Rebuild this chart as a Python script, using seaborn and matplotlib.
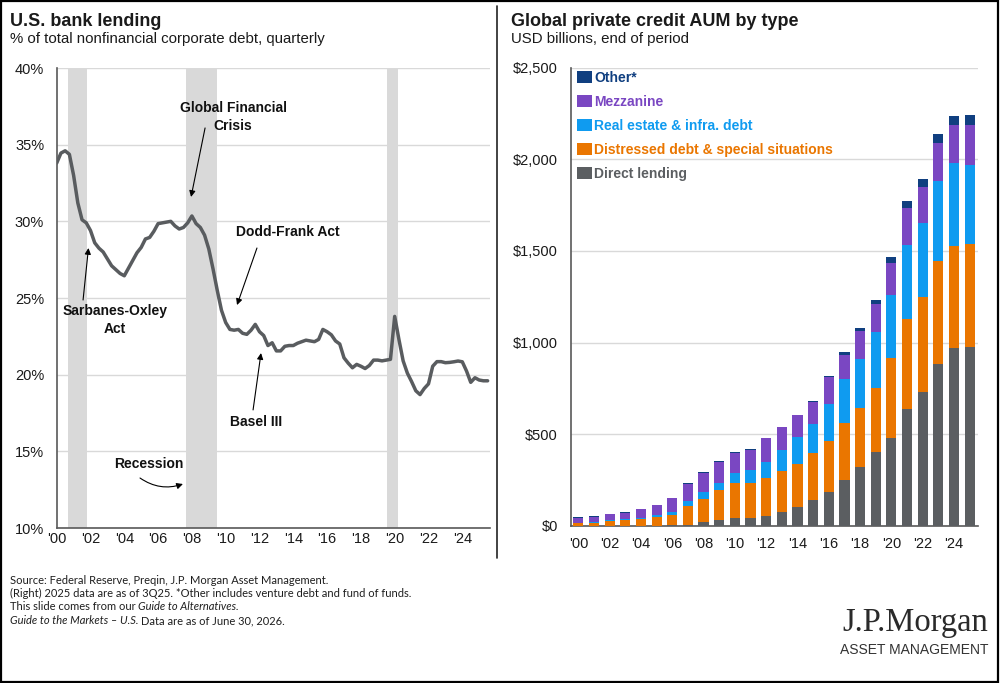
import numpy as np
import pandas as pd
import matplotlib
matplotlib.use("Agg")
import matplotlib.pyplot as plt
import seaborn as sns
from matplotlib.patches import Patch, Rectangle
from matplotlib.lines import Line2D

# ---------------- data ----------------
# Left: U.S. bank lending, % of nonfinancial corporate debt, quarterly 2000Q1-2025Q3
lending_quarters = pd.period_range("2000Q1", "2025Q3", freq="Q")
lending_share = [
    33.8, 34.45, 34.6, 34.37, 33.0, 31.2, 30.1, 29.9,        # 2000-2001
    29.4, 28.6, 28.25, 28.0, 27.55, 27.1, 26.85, 26.6,       # 2002-2003
    26.45, 26.95, 27.45, 27.95, 28.3, 28.85, 28.95, 29.35,   # 2004-2005
    29.85, 29.9, 29.95, 30.0, 29.7, 29.5, 29.6, 29.9,        # 2006-2007
    30.35, 29.85, 29.6, 29.1, 28.2, 26.9, 25.5, 24.2,        # 2008-2009
    23.4, 22.95, 22.9, 22.95, 22.7, 22.63, 22.9, 23.28,      # 2010-2011
    22.8, 22.55, 21.9, 22.08, 21.55, 21.55, 21.85, 21.9,     # 2012-2013
    21.9, 22.05, 22.15, 22.25, 22.2, 22.15, 22.3, 22.95,     # 2014-2015
    22.8, 22.6, 22.2, 22.0, 21.1, 20.75, 20.45, 20.67,       # 2016-2017
    20.55, 20.4, 20.6, 20.95, 20.95, 20.9, 20.95, 21.0,      # 2018-2019
    23.8, 22.3, 20.9, 20.1, 19.55, 18.95, 18.7, 19.1,        # 2020-2021
    19.4, 20.55, 20.85, 20.85, 20.78, 20.8, 20.84, 20.89,    # 2022-2023
    20.84, 20.24, 19.5, 19.8, 19.65, 19.6, 19.6,             # 2024-2025Q3
]
recession_starts = [2000.69, 2007.65, 2019.56]
recession_ends = [2001.81, 2009.50, 2020.21]
left_yticks = [10, 15, 20, 25, 30, 35, 40]
left_xticks = list(range(2000, 2025, 2))
left_xticklabels = ["'00", "'02", "'04", "'06", "'08", "'10", "'12", "'14", "'16", "'18", "'20", "'22", "'24"]

# Right: Global private credit AUM by type, USD billions
aum_years = list(range(2000, 2026))
aum_labels = ["'00", "'01", "'02", "'03", "'04", "'05", "'06", "'07", "'08", "'09",
              "'10", "'11", "'12", "'13", "'14", "'15", "'16", "'17", "'18", "'19",
              "'20", "'21", "'22", "'23", "'24", "'25"]
direct_lending = [2, 2, 2, 2, 2, 2, 3, 7, 24, 33, 42, 45, 54, 75, 102, 142, 187, 251, 323, 405,
                  481, 636, 732, 886, 968, 977]
distressed = [13, 16, 25, 31, 36, 45, 57, 102, 123, 163, 194, 187, 209, 225, 236, 254, 277, 309,
              318, 345, 436, 495, 517, 558, 559, 559]
real_estate = [4, 4, 6, 3, 7, 15, 18, 29, 36, 40, 55, 73, 84, 114, 149, 160, 202, 239, 272, 308,
               345, 400, 405, 435, 454, 434]
mezzanine = [26, 29, 31, 35, 46, 51, 73, 91, 106, 114, 109, 111, 131, 125, 116, 118, 146, 132,
             149, 155, 174, 205, 195, 209, 203, 214]
other = [5, 4, 4, 4, 4, 4, 4, 4, 4, 3, 3, 5, 3, 2, 3, 5, 5, 17, 19, 22, 33, 36, 43, 49, 53, 56]
right_yticks = [0, 500, 1000, 1500, 2000, 2500]
right_yticklabels = ["$0", "$500", "$1,000", "$1,500", "$2,000", "$2,500"]

series_names = ["Direct lending", "Distressed debt & special situations",
                "Real estate & infra. debt", "Mezzanine", "Other*"]
series_colors = ["#5b5e61", "#ea7600", "#0f9bf0", "#7a47c2", "#103f80"]

# ---------------- style ----------------
sns.set_style("white")
plt.rcParams["font.family"] = ["Liberation Sans", "DejaVu Sans"]
TXT = "#1a1a1a"
GRID = "#d9d9d9"
SPINE = "#595959"

fig = plt.figure(figsize=(10, 6.83), dpi=100)
W, H = 1000, 683

def fx(px):
    return px / W

def fy(py):
    return 1 - py / H

# ---------------- left chart ----------------
axL = fig.add_axes([fx(56.7), fy(528), fx(490 - 56.7), (528 - 68) / H])
lend_df = pd.DataFrame({
    "year": [p.year + (p.quarter - 1) / 4 for p in lending_quarters],
    "share": lending_share,
})
for s, e in zip(recession_starts, recession_ends):
    axL.axvspan(s, e, color="#d9d9d9", lw=0, zorder=0)
sns.lineplot(data=lend_df, x="year", y="share", ax=axL, color="#595c5f", lw=2.5, zorder=3)
axL.set_xlim(2000, 2025.64)
axL.set_ylim(10, 40)
axL.set_yticks(left_yticks)
axL.set_yticklabels([f"{v}%" for v in left_yticks])
axL.set_xticks(left_xticks)
axL.set_xticklabels(left_xticklabels)
axL.yaxis.grid(True, color=GRID, lw=1, zorder=1)
axL.set_axisbelow(True)
axL.set_xlabel("")
axL.set_ylabel("")
for side in ["top", "right"]:
    axL.spines[side].set_visible(False)
for side in ["left", "bottom"]:
    axL.spines[side].set_color(SPINE)
    axL.spines[side].set_linewidth(1.2)
axL.tick_params(axis="y", length=0, pad=9, labelsize=10.5, labelcolor=TXT)
axL.tick_params(axis="x", length=2.5, width=1, color=SPINE, direction="out", pad=0.5,
                labelsize=10.5, labelcolor=TXT)

ann_kw = dict(fontsize=10, fontweight="bold", color="#111111", ha="center", va="center",
              linespacing=1.3)
arrow_kw = dict(arrowstyle="-|>", color="black", lw=0.8, mutation_scale=9, shrinkA=0, shrinkB=0)
axL.text(2010.44, 36.80, "Global Financial\nCrisis", **ann_kw)
axL.annotate("", xy=(2007.95, 31.59), xytext=(2008.78, 36.09), arrowprops=arrow_kw)
axL.text(2013.69, 29.30, "Dodd-Frank Act", **ann_kw)
axL.annotate("", xy=(2010.67, 24.54), xytext=(2011.85, 28.26), arrowprops=arrow_kw)
axL.text(2003.45, 23.57, "Sarbanes-Oxley\nAct", **ann_kw)
axL.annotate("", xy=(2001.88, 28.26), xytext=(2001.56, 24.87), arrowprops=arrow_kw)
axL.text(2011.79, 16.91, "Basel III", **ann_kw)
axL.annotate("", xy=(2012.09, 21.41), xytext=(2011.62, 17.70), arrowprops=arrow_kw)
axL.text(2005.46, 14.17, "Recession", **ann_kw)
axL.annotate("", xy=(2007.47, 12.87), xytext=(2004.93, 13.26),
             arrowprops=dict(arrow_kw, connectionstyle="arc3,rad=0.25"))

# ---------------- right chart ----------------
axR = fig.add_axes([fx(570.5), fy(526), fx(977.5 - 570.5), (526 - 67.5) / H])
aum_df = pd.DataFrame({
    "label": aum_labels,
    "Direct lending": direct_lending,
    "Distressed debt & special situations": distressed,
    "Real estate & infra. debt": real_estate,
    "Mezzanine": mezzanine,
    "Other*": other,
})
cum = aum_df[series_names].cumsum(axis=1)
for name, color in reversed(list(zip(series_names, series_colors))):
    sns.barplot(x=aum_df["label"], y=cum[name], ax=axR, color=color, saturation=1,
                width=0.65, linewidth=0, order=aum_labels, zorder=3)
axR.set_xlim(-0.5, 25.5)
axR.set_ylim(0, 2500)
axR.set_yticks(right_yticks)
axR.set_yticklabels(right_yticklabels)
axR.set_xticks(range(0, 26, 2))
axR.set_xticklabels(aum_labels[0::2])
axR.set_xticks(np.arange(-0.5, 26, 2), minor=True)
axR.yaxis.grid(True, color=GRID, lw=1, zorder=0)
axR.set_axisbelow(True)
axR.set_xlabel("")
axR.set_ylabel("")
for side in ["top", "right"]:
    axR.spines[side].set_visible(False)
for side in ["left", "bottom"]:
    axR.spines[side].set_color(SPINE)
    axR.spines[side].set_linewidth(1.2)
axR.tick_params(axis="y", length=0, pad=9, labelsize=10.5, labelcolor=TXT)
axR.tick_params(axis="x", which="major", length=0, pad=8, labelsize=10.5, labelcolor=TXT)
axR.tick_params(axis="x", which="minor", length=4, width=1, color=SPINE, direction="out")

handles = [Patch(facecolor=c, edgecolor="none") for c in series_colors]
leg = axR.legend(handles[::-1], series_names[::-1], loc="upper left",
                 bbox_to_anchor=(fx(577), fy(71)), bbox_transform=fig.transFigure,
                 frameon=False, borderpad=0, borderaxespad=0, handlelength=1.1,
                 handleheight=0.95, handletextpad=0.15, labelspacing=0.72,
                 prop={"family": "Liberation Sans", "weight": "bold", "size": 10})
for txt, c in zip(leg.get_texts(), series_colors[::-1]):
    txt.set_color(c)

# ---------------- titles ----------------
fig.text(fx(10), fy(21), "U.S. bank lending", fontsize=13, fontweight="bold", color=TXT, va="center")
fig.text(fx(10), fy(39), "% of total nonfinancial corporate debt, quarterly", fontsize=10.8,
         color=TXT, va="center")
fig.text(fx(511.5), fy(21), "Global private credit AUM by type", fontsize=13, fontweight="bold",
         color=TXT, va="center")
fig.text(fx(511.5), fy(39), "USD billions, end of period", fontsize=10.8, color=TXT, va="center")

# ---------------- footer ----------------
fig.canvas.draw()
renderer = fig.canvas.get_renderer()

def draw_runs(x, y, runs):
    for txt, style in runs:
        t = fig.text(x, y, txt, fontsize=8, family=["Lato", "DejaVu Sans"], style=style,
                     color="#1e1e1e", va="center")
        bb = t.get_window_extent(renderer=renderer)
        x += bb.width / fig.bbox.width

draw_runs(fx(10), fy(580), [("Source: Federal Reserve, Preqin, J.P. Morgan Asset Management.", "normal")])
draw_runs(fx(10), fy(593.5), [("(Right) 2025 data are as of 3Q25. *Other includes venture debt and fund of funds.", "normal")])
draw_runs(fx(10), fy(607), [("This slide comes from our\u00a0", "normal"), ("Guide to Alternatives.", "italic")])
draw_runs(fx(10), fy(620.5), [("Guide to the Markets \u2013 U.S.\u00a0", "italic"),
                            ("Data are as of June 30, 2026.", "normal")])

# ---------------- logo ----------------
fig.text(fx(988), fy(631), "J.P.Morgan", fontsize=23.5, family=["Liberation Serif", "DejaVu Serif"],
         color="#2a2a2a", ha="right", va="baseline")
fig.text(fx(988), fy(650), "ASSET MANAGEMENT", fontsize=10, color="#333333", ha="right", va="center")

# ---------------- frame and divider ----------------
fig.add_artist(Line2D([fx(497), fx(497)], [fy(6), fy(558)], color="#222222", lw=1.2))
fig.add_artist(Rectangle((0.001, 0.002), 0.997, 0.996, transform=fig.transFigure,
                         fill=False, edgecolor="black", lw=1.6))

fig.savefig("out.png", dpi=100)
